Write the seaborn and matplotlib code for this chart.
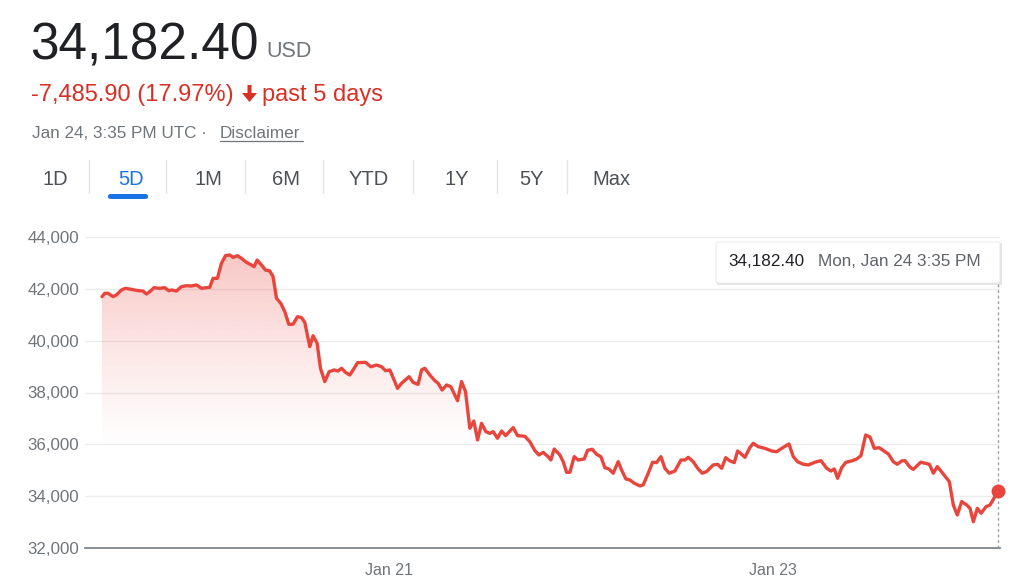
import numpy as np
import pandas as pd
import matplotlib
matplotlib.use("Agg")
import matplotlib.pyplot as plt
import matplotlib.dates as mdates
from matplotlib.colors import LinearSegmentedColormap
from matplotlib.patches import FancyBboxPatch, Rectangle, Polygon
from matplotlib.lines import Line2D
from matplotlib.ticker import FuncFormatter
import seaborn as sns

# ---------------- data ----------------
start_time = "2022-01-19 12:00"
hours = [0.0, 0.34, 0.75, 1.38, 1.80, 2.43, 2.93, 3.68, 4.51, 5.14, 5.56, 5.98, 6.52, 7.23, 7.86,
         8.36, 8.77, 9.32, 9.95, 10.58, 11.20, 11.83, 12.46, 13.08, 13.50, 13.91, 14.46, 14.96,
         15.47, 16.00, 16.42, 16.97, 17.47, 18.10, 18.72, 19.05, 19.43, 19.98, 20.48, 21.02,
         21.43, 21.86, 22.40, 22.90, 23.40, 23.94, 24.49, 24.99, 25.40, 26.03, 26.44, 26.95,
         27.37, 27.91, 28.45, 29.08, 29.58, 30.00, 30.50, 31.04, 31.46, 32.01, 33.01, 33.68,
         34.39, 35.02, 35.52, 36.06, 36.60, 37.02, 37.52, 38.47, 38.98, 39.60, 40.03, 40.44,
         41.07, 41.70, 42.11, 42.61, 43.16, 43.70, 44.20, 44.54, 45.04, 45.54, 46.08, 46.58,
         47.05, 47.55, 48.09, 48.59, 49.00, 49.55, 50.06, 50.56, 51.51, 52.06, 52.98, 53.60,
         54.23, 54.73, 55.27, 55.90, 56.23, 56.65, 57.36, 57.78, 58.20, 58.62, 59.15, 59.65,
         60.41, 60.83, 61.41, 61.96, 62.50, 63.00, 63.50, 64.04, 64.67, 65.09, 65.63, 66.13,
         66.67, 67.39, 67.80, 68.43, 68.98, 69.48, 70.02, 70.52, 71.06, 71.77, 72.53, 73.03,
         73.44, 74.07, 74.62, 75.20, 75.75, 76.57, 77.12, 77.63, 78.13, 78.67, 79.21, 79.63,
         80.13, 80.55, 81.17, 81.59, 82.21, 83.05, 83.89, 84.52, 85.15, 86.06, 86.60, 87.15,
         87.85, 88.48, 89.32, 90.07, 90.79, 91.32, 91.74, 92.16, 92.67, 93.20, 93.92, 94.55,
         95.08, 95.67, 96.21, 96.75, 97.38, 98.09, 98.51, 99.13, 99.63, 100.19, 100.60, 101.23,
         101.64, 102.57, 103.11, 103.65, 104.15, 104.65, 105.32, 106.15, 106.65, 107.15,
         107.70, 108.33, 108.75, 109.16, 109.66, 110.13, 110.75, 111.25, 111.75, 112.25]
prices = [41697, 41828, 41830, 41700, 41762, 41955, 42020, 41980, 41930, 41915, 41800, 41890,
          42045, 42020, 42045, 41930, 41955, 41915, 42085, 42120, 42110, 42150, 42020, 42045,
          42060, 42405, 42405, 42985, 43280, 43305, 43215, 43280, 43175, 43020, 42920, 42855,
          43110, 42920, 42725, 42690, 42470, 41635, 41440, 41120, 40630, 40640, 40925, 40890,
          40710, 39770, 40190, 39900, 38935, 38420, 38800, 38870, 38830, 38935, 38780, 38675,
          38870, 39150, 39165, 38995, 39060, 38995, 38840, 38870, 38480, 38160, 38355, 38610,
          38390, 38315, 38870, 38935, 38675, 38455, 38355, 38095, 38290, 38225, 37905, 37685,
          38420, 38035, 36620, 36900, 36170, 36810, 36490, 36425, 36490, 36235, 36515, 36335,
          36645, 36335, 36310, 36100, 35755, 35590, 35690, 35520, 35395, 35820, 35590, 35330,
          34920, 34920, 35525, 35395, 35435, 35770, 35810, 35615, 35525, 35100, 35050, 34885,
          35330, 35010, 34665, 34625, 34500, 34395, 34435, 34885, 35310, 35295, 35525, 35075,
          34885, 34970, 35395, 35395, 35500, 35330, 35075, 34885, 34950, 35205, 35230, 35075,
          35485, 35360, 35295, 35745, 35615, 35500, 35880, 36040, 35910, 35845, 35745, 35715,
          35845, 36015, 35525, 35330, 35230, 35205, 35310, 35370, 35075, 34970, 35050, 34690,
          35100, 35310, 35360, 35435, 35560, 36360, 36280, 35845, 35870, 35715, 35630, 35330,
          35230, 35360, 35370, 35115, 35035, 35310, 35270, 35230, 34885, 35140, 34885, 34560,
          33660, 33275, 33790, 33660, 33530, 33015, 33530, 33340, 33595, 33660, 33920, 34182.40]
y_ticks = [32000, 34000, 36000, 38000, 40000, 42000, 44000]
x_tick_dates = ["2022-01-21", "2022-01-23"]
tabs = ["1D", "5D", "1M", "6M", "YTD", "1Y", "5Y", "Max"]
price_text = "34,182.40"
currency = "USD"
change_text = "-7,485.90 (17.97%)"
period_text = "past 5 days"
stamp_text = "Jan 24, 3:35 PM UTC · "
disclaimer = "Disclaimer"
tip_value = "34,182.40"
tip_date = "Mon, Jan 24 3:35 PM"

df = pd.DataFrame({"time": pd.Timestamp(start_time) + pd.to_timedelta(hours, unit="h"),
                   "price": prices})

# ---------------- style ----------------
sns.set_theme(style="white")
plt.rcParams["font.family"] = ["Liberation Sans", "DejaVu Sans"]

W, H = 1024, 584
fig = plt.figure(figsize=(W / 100, H / 100), dpi=100)
fig.patch.set_facecolor("white")


def P(x, y):
    return x / W, 1 - y / H


RED_LINE = "#e8453c"
RED_TEXT = "#d93025"
GREY = "#70757a"

ax = fig.add_axes([85 / W, 36 / H, 915 / W, 311 / H])
ax.set_facecolor("white")

sns.lineplot(data=df, x="time", y="price", ax=ax, color=RED_LINE, linewidth=2.4,
             zorder=4, estimator=None, sort=True)

# gradient fill under the line
poly = ax.fill_between(df["time"], df["price"], 32000, facecolor="none", edgecolor="none")
clip_path = poly.get_paths()[0]
x0 = mdates.date2num(df["time"].iloc[0])
x1 = mdates.date2num(df["time"].iloc[-1])
cmap = LinearSegmentedColormap.from_list(
    "fade", [(232 / 255, 69 / 255, 60 / 255, 0.0), (232 / 255, 69 / 255, 60 / 255, 0.30)])
grad = np.linspace(0, 1, 256).reshape(-1, 1) ** 1.2
im = ax.imshow(grad, extent=[x0, x1, 35800, 43400], origin="lower", cmap=cmap,
               aspect="auto", zorder=2, interpolation="bilinear")
im.set_clip_path(clip_path, transform=ax.transData)

# end dot
ax.plot([df["time"].iloc[-1]], [df["price"].iloc[-1]], "o", color=RED_LINE,
        markersize=9, zorder=7, clip_on=False)

# dotted crosshair
ax.axvline(df["time"].iloc[-1], ymin=0, ymax=(548 - 283) / 311, color="#9aa0a6",
           linestyle=(0, (2, 2)), linewidth=1, zorder=3)

# limits
px_per_hour = 1 / 0.125326
ax.set_xlim(mdates.date2num(pd.Timestamp(start_time)) - (17 / px_per_hour) / 24,
            mdates.date2num(df["time"].iloc[-1]) + (2 / px_per_hour) / 24)
ax.set_ylim(32000, 44000)

ax.set_yticks(y_ticks)
ax.yaxis.set_major_formatter(FuncFormatter(lambda v, p: f"{v:,.0f}"))
ax.set_xticks([mdates.date2num(pd.Timestamp(d)) for d in x_tick_dates])
ax.xaxis.set_major_formatter(mdates.DateFormatter("%b %d"))

ax.grid(axis="y", color="#ececec", linewidth=1)
ax.grid(axis="x", visible=False)
ax.set_axisbelow(True)
for s in ["top", "right", "left"]:
    ax.spines[s].set_visible(False)
ax.spines["bottom"].set_color("#80868b")
ax.spines["bottom"].set_linewidth(1.3)
ax.spines["bottom"].set_zorder(6)
ax.tick_params(axis="y", length=0, pad=4, labelsize=12.2, labelcolor=GREY)
ax.tick_params(axis="x", direction="out", length=6, width=1, color="#80868b",
               pad=5, labelsize=11.5, labelcolor=GREY)
ax.set_xlabel("")
ax.set_ylabel("")

# ---------------- header ----------------
fig.text(*P(30, 60), price_text, fontsize=37, color="#202124", va="baseline", ha="left")
fig.text(*P(266, 57), currency, fontsize=15.5, color=GREY, va="baseline", ha="left")
fig.text(*P(31, 101), change_text, fontsize=17, color=RED_TEXT, va="baseline", ha="left")
arrow_px = [(247.5, 85), (251.5, 85), (251.5, 93), (257, 93), (249.5, 102),
            (242, 93), (247.5, 93)]
fig.add_artist(Polygon([P(x, y) for x, y in arrow_px], closed=True, facecolor=RED_TEXT,
                       edgecolor="none", transform=fig.transFigure))
fig.text(*P(262, 101), period_text, fontsize=17, color=RED_TEXT, va="baseline", ha="left")
fig.text(*P(32, 138), stamp_text, fontsize=12.3, color=GREY, va="baseline", ha="left")
fig.text(*P(220, 138), disclaimer, fontsize=12.3, color=GREY, va="baseline", ha="left")
fig.add_artist(Line2D([220 / W, 303 / W], [1 - 141 / H, 1 - 141 / H], color=GREY,
                      linewidth=0.9, transform=fig.transFigure))

tab_x = [55, 131, 208, 286, 369, 457, 532, 611]
sep_x = [89, 166, 245, 323, 413, 497, 567]
for lab, tx in zip(tabs, tab_x):
    fig.text(*P(tx, 185), lab, fontsize=14.5, ha="center", va="baseline",
             color="#1a73e8" if lab == "5D" else "#4d5156")
for sx in sep_x:
    fig.add_artist(Line2D([sx / W, sx / W], [1 - 160 / H, 1 - 193 / H], color="#e3e4e6",
                          linewidth=1, transform=fig.transFigure))
fig.add_artist(FancyBboxPatch((108 / W, 1 - 199 / H), 40 / W, 5 / H,
                              boxstyle="round,pad=0,rounding_size=0.003",
                              facecolor="#1a73e8", edgecolor="none",
                              transform=fig.transFigure))

# ---------------- tooltip ----------------
fig.add_artist(Rectangle((717 / W, 1 - 285 / H), 285 / W, 42 / H, facecolor="#000000",
                         alpha=0.10, edgecolor="none", transform=fig.transFigure, zorder=9))
fig.add_artist(FancyBboxPatch((716 / W, 1 - 283 / H), 284 / W, 41 / H,
                              boxstyle="round,pad=0,rounding_size=0.003",
                              facecolor="white", edgecolor="#e6e6e6", linewidth=0.6,
                              transform=fig.transFigure, zorder=10))
fig.text(*P(728, 262), tip_value, fontsize=12.3, color="#202124", va="center", ha="left",
         zorder=11)
fig.text(*P(818, 262), tip_date, fontsize=12.3, color="#5f6368", va="center", ha="left",
         zorder=11)

fig.savefig("out.png", dpi=100, facecolor="white")
